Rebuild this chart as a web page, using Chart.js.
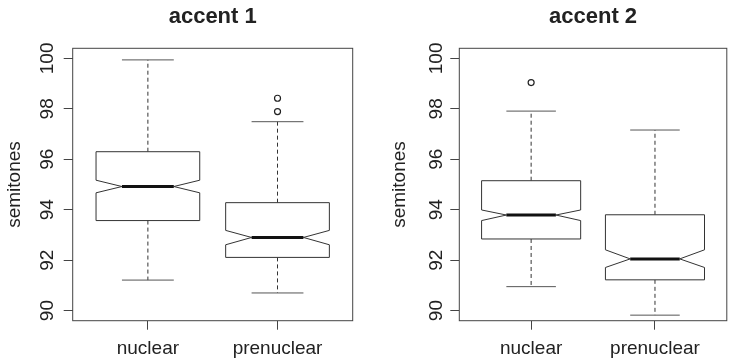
<!DOCTYPE html>
<html><head><meta charset="utf-8">
<script src="https://cdn.jsdelivr.net/npm/chart.js@4.4.1/dist/chart.umd.min.js"></script>
<style>
html,body{margin:0;padding:0;background:#fff;overflow:hidden}
#wrap{position:relative;width:731px;height:360px}
.pane{position:absolute;top:0;height:360px}
</style></head><body>
<div id="wrap">
<div class="pane" style="left:0;width:365px"><canvas id="c1" width="365" height="360"></canvas></div>
<div class="pane" style="left:365px;width:366px"><canvas id="c2" width="366" height="360"></canvas></div>
</div>
<script>
// ---- data ----
const categories = ['nuclear', 'prenuclear'];
const yTicks = [90, 92, 94, 96, 98, 100];
const panelTitles = ['accent 1', 'accent 2'];
const yTitle = 'semitones';

// accent 1
const a1Min        = [91.21, 90.70];
const a1Q1         = [93.57, 92.11];
const a1NotchLow   = [94.67, 92.61];
const a1Median     = [94.92, 92.90];
const a1NotchHigh  = [95.17, 93.18];
const a1Q3         = [96.30, 94.28];
const a1Max        = [99.94, 97.49];
const a1Outliers   = [[], [97.89, 98.42]];

// accent 2
const a2Min        = [90.95, 89.82];
const a2Q1         = [92.84, 91.22];
const a2NotchLow   = [93.57, 91.71];
const a2Median     = [93.79, 92.05];
const a2NotchHigh  = [93.99, 92.41];
const a2Q3         = [95.15, 93.80];
const a2Max        = [97.91, 97.16];
const a2Outliers   = [[99.04], []];

const FONT = '"Liberation Sans", Arial, Helvetica, sans-serif';

const boxPlugin = {
  id: 'boxplot',
  beforeDatasetsDraw(chart) {
    const o = chart.options.plugins.boxplot;
    const st = o.stats;
    const xs = chart.scales.x, ys = chart.scales.y;
    const px = v => xs.getPixelForValue(v), py = v => ys.getPixelForValue(v);
    const ctx = chart.ctx;
    ctx.save();
    for (let i = 0; i < categories.length; i++) {
      const c = i + 1;
      const xl = px(c - 0.4), xr = px(c + 0.4), xnl = px(c - 0.2), xnr = px(c + 0.2), xc = px(c);
      // whiskers
      ctx.strokeStyle = '#333'; ctx.lineWidth = 1; ctx.setLineDash([4, 3]);
      ctx.beginPath();
      ctx.moveTo(xc, py(st.q3[i])); ctx.lineTo(xc, py(st.max[i]));
      ctx.moveTo(xc, py(st.q1[i])); ctx.lineTo(xc, py(st.min[i]));
      ctx.stroke();
      ctx.setLineDash([]);
      // staples
      ctx.strokeStyle = '#555';
      ctx.beginPath();
      ctx.moveTo(xnl, py(st.max[i])); ctx.lineTo(xnr, py(st.max[i]));
      ctx.moveTo(xnl, py(st.min[i])); ctx.lineTo(xnr, py(st.min[i]));
      ctx.stroke();
      // notched box
      ctx.strokeStyle = '#333';
      ctx.fillStyle = '#fff';
      ctx.beginPath();
      ctx.moveTo(xl, py(st.q3[i])); ctx.lineTo(xr, py(st.q3[i]));
      ctx.lineTo(xr, py(st.nHi[i])); ctx.lineTo(xnr, py(st.med[i]));
      ctx.lineTo(xr, py(st.nLo[i])); ctx.lineTo(xr, py(st.q1[i]));
      ctx.lineTo(xl, py(st.q1[i])); ctx.lineTo(xl, py(st.nLo[i]));
      ctx.lineTo(xnl, py(st.med[i])); ctx.lineTo(xl, py(st.nHi[i]));
      ctx.closePath();
      ctx.fill(); ctx.stroke();
      // median
      ctx.strokeStyle = '#111'; ctx.lineWidth = 3;
      ctx.beginPath();
      ctx.moveTo(xnl, py(st.med[i])); ctx.lineTo(xnr, py(st.med[i]));
      ctx.stroke();
      ctx.lineWidth = 1;
    }
    ctx.restore();
  },
  afterDraw(chart) {
    const o = chart.options.plugins.boxplot;
    const ca = chart.chartArea;
    const xs = chart.scales.x, ys = chart.scales.y;
    const ctx = chart.ctx;
    ctx.save();
    // frame
    ctx.strokeStyle = '#444'; ctx.lineWidth = 1;
    ctx.strokeRect(ca.left, ca.top, ca.right - ca.left, ca.bottom - ca.top);
    ctx.fillStyle = '#222';
    // title
    ctx.font = 'bold 22px ' + FONT;
    ctx.textAlign = 'center'; ctx.textBaseline = 'alphabetic';
    ctx.fillText(o.title, (ca.left + ca.right) / 2, 23);
    // x labels
    ctx.font = '19px ' + FONT;
    categories.forEach((c, i) => ctx.fillText(c, xs.getPixelForValue(i + 1), 353.5));
    // y labels (rotated)
    yTicks.forEach(v => {
      ctx.save();
      ctx.translate(ca.left - o.yLabelBase, ys.getPixelForValue(v));
      ctx.rotate(-Math.PI / 2);
      ctx.fillText(String(v), 0, 0);
      ctx.restore();
    });
    // y title
    ctx.save();
    ctx.translate(ca.left - o.yTitleBase, (ca.top + ca.bottom) / 2);
    ctx.rotate(-Math.PI / 2);
    ctx.fillText(yTitle, 0, 0);
    ctx.restore();
    ctx.restore();
  }
};

function makeChart(id, title, stats, outliers, geom) {
  const pts = [];
  outliers.forEach((arr, i) => arr.forEach(v => pts.push({ x: i + 1, y: v })));
  return new Chart(document.getElementById(id), {
    type: 'scatter',
    data: { datasets: [{
      data: pts, pointRadius: 3, pointHoverRadius: 3, pointBorderWidth: 1.2,
      borderColor: '#222', backgroundColor: 'rgba(0,0,0,0)'
    }]},
    options: {
      responsive: false, animation: false, events: [],
      layout: { padding: { left: 0, right: geom.padRight, top: 48.3, bottom: 0 } },
      plugins: {
        legend: { display: false }, tooltip: { enabled: false }, title: { display: false },
        boxplot: { stats, title, yLabelBase: geom.yLabelBase, yTitleBase: geom.yTitleBase }
      },
      scales: {
        x: {
          type: 'linear', min: 0.42, max: 2.58,
          afterBuildTicks: s => { s.ticks = categories.map((c, i) => ({ value: i + 1 })); },
          ticks: { display: false },
          grid: { drawOnChartArea: false, drawTicks: true, tickLength: 9, color: '#444' },
          border: { display: false },
          afterFit: s => { s.height = 39.3; }
        },
        y: {
          type: 'linear', min: 89.6, max: 100.4,
          afterBuildTicks: s => { s.ticks = yTicks.map(v => ({ value: v })); },
          ticks: { display: false },
          grid: { drawOnChartArea: false, drawTicks: true, tickLength: 9, color: '#444' },
          border: { display: false },
          afterFit: s => { s.width = geom.left; }
        }
      }
    },
    plugins: [boxPlugin]
  });
}

makeChart('c1', panelTitles[0], {
  min: a1Min, q1: a1Q1, nLo: a1NotchLow, med: a1Median, nHi: a1NotchHigh, q3: a1Q3, max: a1Max
}, a1Outliers, { left: 72.7, padRight: 12.3, yLabelBase: 19.5, yTitleBase: 52.4 });

makeChart('c2', panelTitles[1], {
  min: a2Min, q1: a2Q1, nLo: a2NotchLow, med: a2Median, nHi: a2NotchHigh, q3: a2Q3, max: a2Max
}, a2Outliers, { left: 94.3, padRight: 0.5, yLabelBase: 17.6, yTitleBase: 54.3 });
</script>
</body></html>
